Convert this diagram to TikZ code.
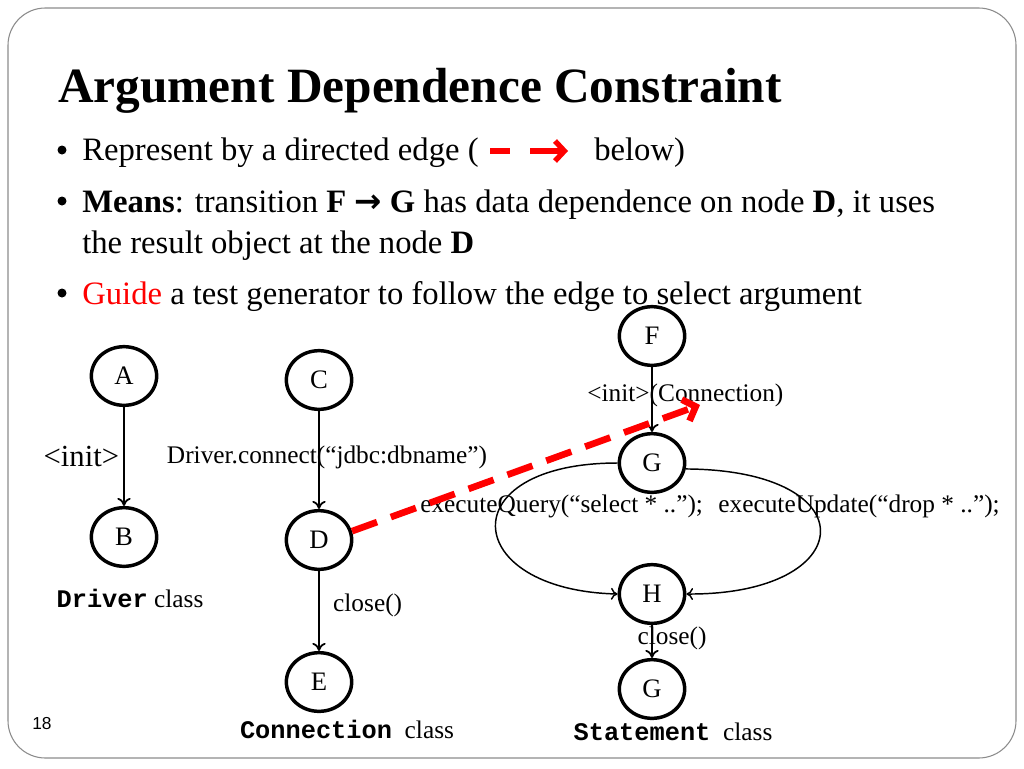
\documentclass[tikz,border=0pt]{standalone}
\usepackage{fontspec}
\setmainfont{Liberation Serif}
\setmonofont{Liberation Mono}
\setsansfont{Liberation Sans}
\newfontfamily\arrowfont{DejaVu Sans}
\usetikzlibrary{shapes.geometric,arrows.meta}
\newcommand{\cls}[1]{{\fontsize{19}{22}\selectfont\texttt{\textbf{#1}}}}

\begin{document}
\begin{tikzpicture}[x=0.75pt,y=-0.75pt,
	state/.style={ellipse,draw,line width=2.6pt,minimum width=49pt,minimum height=44pt,inner sep=0pt,font=\fontsize{20}{22}\selectfont},
	trans/.style={line width=1.3pt,-{To[length=6pt,width=10pt]}},
	loop/.style={line width=1.1pt,-{To[length=5pt,width=9pt]}},
	lbl/.style={font=\fontsize{19}{22}\selectfont,inner sep=0pt},
	bull/.style={font=\fontsize{24.5}{28}\selectfont,anchor=base west,inner sep=0pt}]
	\useasboundingbox (0,0) rectangle (1024,768);
	\draw[black!45,line width=0.8pt,rounded corners=28pt] (8,8) rectangle (1016,758);
	\node[anchor=base west,inner sep=0pt,font=\bfseries\fontsize{37}{42}\selectfont] (title) at (58,102) {Argument Dependence Constraint};
	\foreach \y in {150,201,293} \fill (62,\y) circle (4.5);
	\node[bull] (rep) at (82,160) {Represent by a directed edge (};
	\node[bull] (below) at (594,160) {below)};
	\draw[red,line width=4pt] (490,151) -- (510,151);
	\draw[red,line width=4pt,-{Straight Barb[length=7pt,width=15pt]}] (530,151) -- (568,151);
	\node[bull] (means) at (82,212) {\textbf{Means}: transition \textbf{F} {\arrowfont\bfseries →} \textbf{G} has data dependence on node \textbf{D}, it uses};
	\node[bull] (result) at (82,253) {the result object at the node \textbf{D}};
	\node[bull] (guide) at (82,304) {{\color{red}Guide} a test generator to follow the edge to select argument};
	% Driver
	\node[state] (A) at (124,376) {A};
	\node[state] (B) at (124,537) {B};
	\draw[trans] (A) -- node[midway,left=3pt,lbl,font=\fontsize{23}{25}\selectfont] {<init>} (B);
	\node[lbl,anchor=base] (drv) at (130,607) {\cls{Driver} class};
	% Connection
	\node[state] (C) at (319,380) {C};
	\node[state] (D) at (319,540) {D};
	\node[state] (E) at (319,682) {E};
	\draw[trans] (C) -- node[midway,lbl,xshift=6pt,yshift=2pt] {Driver.connect(“jdbc:dbname”)} (D);
	\draw[trans] (D) -- node[midway,lbl,right=10pt,yshift=4pt] {close()} (E);
	\node[lbl,anchor=base] (conn) at (347,738) {\cls{Connection} \ class};
	% Statement
	\node[state] (F) at (652,336) {F};
	\node[state] (G) at (652,463) {G};
	\node[state] (H) at (652,594) {H};
	\node[state] (G2) at (652,689) {G};
	\draw[trans] (F) -- node[midway,lbl,xshift=25pt,yshift=3pt] {<init>(Connection)} (G);
	\draw[loop] (G.west) .. controls (450,463) and (460,590) .. (H.west);
	\draw[loop] (G.-10) .. controls (870,470) and (860,595) .. (H.east);
	\node[lbl,anchor=base west] (query) at (420,512) {executeQuery(“select * ..”);};
	\node[lbl,anchor=base east] (update) at (1000,512) {executeUpdate(“drop * ..”);};
	\draw[trans] (H) -- node[midway,lbl,xshift=15pt,yshift=2pt] {close()} (G2);
	\node[lbl,anchor=base] (stmt) at (673,740) {\cls{Statement} \ class};
	% dependence
	\coordinate (tip) at (700,405);
	\draw[red,line width=5pt,dash pattern=on 20pt off 11pt,-{Straight Barb[length=8pt,width=17pt]}] (D.15) -- (tip);
	\node[font=\sffamily\fontsize{13}{15}\selectfont,inner sep=0pt] (page) at (42,724) {18};
\end{tikzpicture}
\end{document}
